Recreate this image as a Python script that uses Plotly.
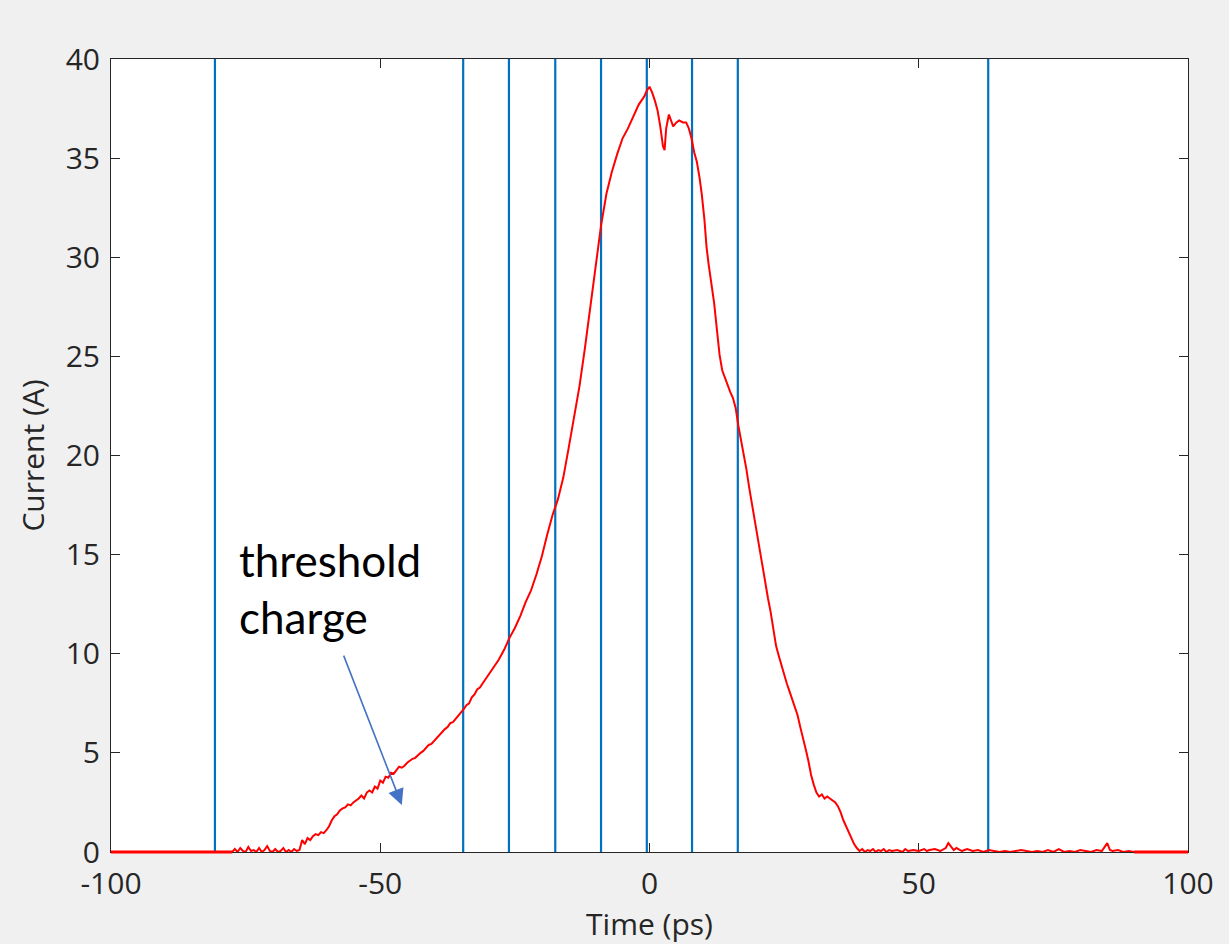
import plotly.graph_objects as go

# ---- data ----
time_ps = [
    -100, -77.5, -77, -76.5, -76, -75.5, -75, -74.5, -74, -73.5, -73, -72.5, -72, -71.5, -71,
    -70.5, -70, -69.5, -69, -68.5, -68, -67.5, -67, -66.5, -66, -65.5, -65,
    -64.5, -64, -63.5, -63, -62.5, -62, -61.5, -61, -60.5, -60, -59.5, -59, -58.5, -58, -57.5, -57,
    -56.5, -56, -55.5, -55, -54.5, -54, -53.5, -53, -52.5, -52, -51.5, -51, -50.5, -50, -49.5, -49,
    -48.5, -48, -47.5, -47, -46.5, -46, -45.5,
    -45, -44.5, -44, -43.5, -43, -42.5, -42, -41.5, -41, -40.5, -40, -39.5, -39, -38.5, -38, -37.5,
    -37, -36.5, -36, -35.5, -35, -34.5, -34, -33.5, -33, -32.5, -32, -31.5, -31, -30.5, -30, -29.5,
    -29, -28.5, -28,
    -27, -26, -25, -24, -23, -22, -21, -20, -19, -18, -17, -16, -15, -14, -13, -12, -11, -10,
    -9, -8, -7, -6, -5, -4, -3, -2, -1, -0.5, 0, 0.5, 1, 1.5, 2, 2.5, 2.8, 3.1, 3.6, 4.0, 4.4,
    5.0, 5.5, 6.2, 6.8, 7.3, 7.8, 8.3, 8.8, 9.3, 9.7, 10.2, 10.6, 11.0, 11.5, 12.0, 12.5, 13.0,
    13.5, 14.0, 14.5, 15.0, 15.5, 16.0, 16.5, 17.0, 17.5, 18.0, 18.5, 19.0, 19.5, 20.0, 20.5,
    21.0, 21.5, 22.0, 22.5, 23.0, 23.5, 24.0, 24.5, 25.0, 25.5, 26.0, 26.5, 27.0, 27.5, 28.0,
    28.5, 29.0, 29.5, 30.0, 30.5, 31.0, 31.5, 32.0, 32.5, 33.0, 33.5, 34.0, 34.5, 35.0, 35.5,
    36.0, 36.5, 37.0, 37.5, 38.0, 38.5, 39,
    39.5, 40, 40.5, 41, 41.5, 42, 42.5, 43, 43.5, 44, 44.5, 45, 46, 47, 47.5, 48, 49, 50, 51,
    51.5, 52, 53, 54, 55, 55.5, 56, 56.5, 57, 58, 59, 60, 61, 62, 63, 64, 65, 66, 67, 68, 69,
    70, 71, 72, 73, 74, 75, 76, 77, 78, 79, 80, 81, 82, 83, 84, 85, 85.5, 86, 87, 88, 89, 90, 100,
]
current_A = [
    0, 0, 0.15, 0, 0.2, 0.05, 0, 0.25, 0.05, 0.1, 0, 0.2, 0, 0.1, 0.3,
    0.05, 0, 0.15, 0, 0.05, 0.2, 0, 0.1, 0, 0.15, 0.05, 0.1,
    0.6, 0.4, 0.7, 0.6, 0.8, 0.9, 0.85, 1.0, 0.95, 1.1, 1.3, 1.6, 1.8, 1.9, 2.1, 2.2,
    2.25, 2.4, 2.35, 2.5, 2.6, 2.7, 2.85, 2.7, 3.0, 3.1, 3.0, 3.3, 3.2, 3.6, 3.5, 3.8,
    3.75, 4.0, 3.95, 4.1, 4.3, 4.25, 4.35,
    4.5, 4.6, 4.7, 4.75, 4.9, 5.0, 5.1, 5.25, 5.4, 5.45, 5.6, 5.8, 5.9, 6.05, 6.2, 6.3,
    6.5, 6.55, 6.7, 6.85, 7.0, 7.2, 7.4, 7.5, 7.8, 7.95, 8.2, 8.3, 8.5, 8.7, 8.9, 9.1,
    9.3, 9.5, 9.7,
    10.2, 10.8, 11.3, 11.9, 12.6, 13.2, 14.0, 14.9, 16.0, 17.0, 17.8, 18.9, 20.4, 21.9, 23.5, 25.4, 27.4, 29.5,
    31.6, 33.2, 34.3, 35.2, 36.0, 36.5, 37.1, 37.7, 38.1, 38.4, 38.6, 38.3, 37.9, 37.4, 36.6, 35.6, 35.4, 36.5, 37.2, 36.9, 36.6,
    36.8, 36.9, 36.8, 36.8, 36.5, 36.0, 35.3, 34.8, 34.0, 33.2, 31.9, 30.5, 29.6, 28.6, 27.7, 26.4, 25.1,
    24.3, 23.9, 23.6, 23.2, 22.9, 22.4, 21.5, 20.8, 20.1, 19.3, 18.4, 17.6, 16.7, 15.8, 15.0,
    14.2, 13.4, 12.8, 12.1, 11.2, 10.4, 9.9, 9.4, 8.9, 8.5, 8.1, 7.7, 7.3, 6.9, 6.3,
    5.8, 5.2, 4.6, 3.9, 3.4, 3.0, 2.8, 2.9, 2.7, 2.8, 2.7, 2.6, 2.5, 2.3, 2.0,
    1.6, 1.3, 1.0, 0.7, 0.4, 0.2, 0.05,
    0.15, 0, 0.1, 0.05, 0.15, 0, 0.1, 0.05, 0.15, 0, 0.1, 0.05, 0.1, 0, 0.15, 0.05, 0.1, 0.05, 0.15,
    0.05, 0.1, 0.15, 0.05, 0.2, 0.45, 0.3, 0.1, 0.2, 0.05, 0.15, 0.05, 0.1, 0, 0.1, 0.05, 0, 0.05, 0, 0.05, 0.1,
    0.05, 0, 0.05, 0, 0.1, 0, 0.15, 0, 0.05, 0, 0.1, 0.05, 0, 0.1, 0.05, 0.45, 0.1, 0.05, 0.1, 0, 0.05, 0, 0,
]
marker_times = [-80.7, -34.6, -26.1, -17.5, -9.0, -0.5, 7.9, 16.4, 62.9]
x_ticks = [-100, -50, 0, 50, 100]
x_tick_labels = ["-100", "-50", "0", "50", "100"]
y_ticks = [0, 5, 10, 15, 20, 25, 30, 35, 40]
y_tick_labels = ["0", "5", "10", "15", "20", "25", "30", "35", "40"]
annotation_text = "threshold<br>charge"

AX = "#262626"
RED = "#ff0000"
FS = 30
fig = go.Figure()

for t in marker_times:
    fig.add_trace(go.Scatter(x=[t, t], y=[0, 40], mode="lines",
                             line=dict(color="#0072BD", width=2.2),
                             showlegend=False, hoverinfo="skip"))

fig.add_trace(go.Scatter(x=time_ps, y=current_A, mode="lines",
                         line=dict(color=RED, width=2),
                         showlegend=False))

# flat zero segments of the curve lie on the x axis; draw them unclipped in y
def zero_runs(xs, ys):
    runs, start = [], None
    for i in range(len(xs)):
        if ys[i] == 0:
            if start is None:
                start = i
        else:
            if start is not None and i - 1 > start:
                runs.append((xs[start], xs[i - 1]))
            start = None
    if start is not None and len(xs) - 1 > start:
        runs.append((xs[start], xs[-1]))
    return runs

for x0, x1 in zero_runs(time_ps, current_A):
    fig.add_shape(type="line", xref="x", yref="paper", x0=x0, x1=x1, y0=0, y1=0,
                  line=dict(color=RED, width=3), layer="above")

fig.add_annotation(x=-76.6, y=13.3, xref="x", yref="y", text=annotation_text,
                   showarrow=False, xanchor="left", yanchor="middle", align="left",
                   font=dict(family="Lato", size=44, color="black"))
fig.add_annotation(x=-46.0, y=2.37, ax=-56.9, ay=9.98, xref="x", yref="y",
                   axref="x", ayref="y", text="", showarrow=True,
                   arrowhead=2, arrowsize=2, arrowwidth=1.6, arrowcolor="#4472C4")

fig.update_layout(
    width=1229, height=944,
    margin=dict(l=111, r=41, t=59, b=92),
    paper_bgcolor="#f0f0f0", plot_bgcolor="white",
    font=dict(family="Open Sans", size=FS, color=AX),
)
fig.update_xaxes(range=[-100, 100], tickvals=x_ticks, ticktext=x_tick_labels,
                 ticks="inside", ticklen=9, tickcolor=AX, showline=True, linecolor=AX,
                 linewidth=1, mirror="ticks", showgrid=False, zeroline=False,
                 layer="below traces", ticklabelstandoff=5,
                 title=dict(text="Time (ps)", standoff=6, font=dict(size=FS, color=AX)),
                 tickfont=dict(size=FS, color=AX))
fig.update_yaxes(range=[0, 40], tickvals=y_ticks, ticktext=y_tick_labels,
                 ticks="inside", ticklen=9, tickcolor=AX, showline=True, linecolor=AX,
                 linewidth=1, mirror="ticks", showgrid=False, zeroline=False,
                 layer="below traces", ticklabelstandoff=4,
                 title=dict(text="Current (A)", standoff=12, font=dict(size=FS, color=AX)),
                 tickfont=dict(size=FS, color=AX))

fig.write_html("out.html")
